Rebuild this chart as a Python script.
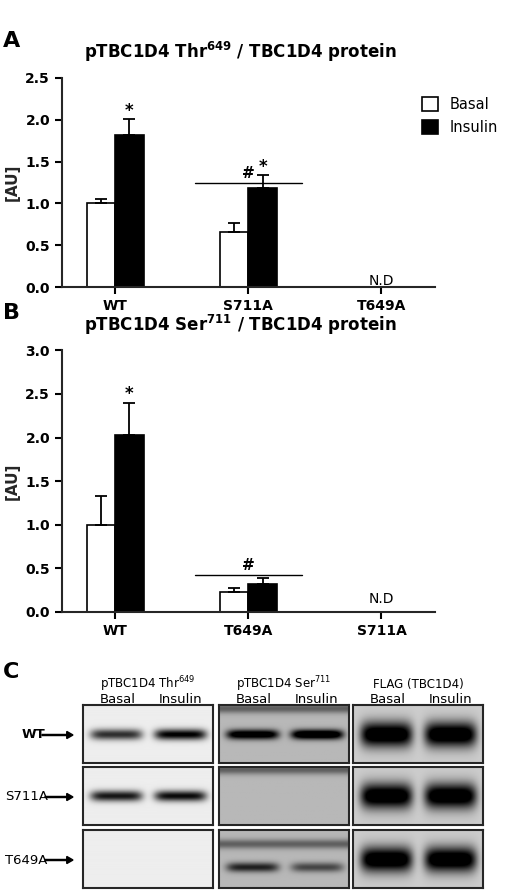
import numpy as np, pandas as pd, seaborn as sns, matplotlib
matplotlib.use("Agg")
import matplotlib.pyplot as plt

sns.set_style("ticks")
plt.rcParams['font.family'] = ['DejaVu Sans']
plt.rcParams['text.color'] = 'black'

groups = ["Basal", "Insulin"]
catsA = ["WT", "S711A", "T649A"]
basalA = [1.00, 0.66, np.nan]; insA = [1.82, 1.18, np.nan]
basalA_err = [0.05, 0.11, 0]; insA_err = [0.19, 0.16, 0]
catsB = ["WT", "T649A", "S711A"]
basalB = [1.00, 0.23, np.nan]; insB = [2.03, 0.32, np.nan]
basalB_err = [0.33, 0.05, 0]; insB_err = [0.37, 0.07, 0]

blot_cols = ["pTBC1D4 Thr$^{649}$", "pTBC1D4 Ser$^{711}$", "FLAG (TBC1D4)"]
blot_rows = ["WT", "S711A", "T649A"]
bands = [[(0.75, 0.95), (0.9, 1.0), (1.0, 1.0)],
         [(0.85, 0.9), (0.0, 0.0), (1.0, 1.0)],
         [(0.0, 0.0), (0.6, 0.45), (1.0, 1.0)]]
bg = [0.93, 0.72, 0.80]

fig = plt.figure(figsize=(5.2, 8.9), dpi=100)

def panel(rect, cats, b, i, be, ie, ylim, ticks, title, letter, sig_star, hash_y, nd_y):
    ax = fig.add_axes(rect)
    df = pd.DataFrame({"cat": cats * 2, "grp": ["Basal"] * 3 + ["Insulin"] * 3, "val": b + i})
    sns.barplot(data=df, x="cat", y="val", hue="grp", order=cats, hue_order=groups,
                palette=["white", "black"], edgecolor="black", linewidth=1.2,
                width=0.43, ax=ax, errorbar=None)
    offs = [-0.1075, 0.1075]
    for k, (vals, errs) in enumerate([(b, be), (i, ie)]):
        for j, (v, e) in enumerate(zip(vals, errs)):
            if not np.isnan(v):
                ax.errorbar(j + offs[k], v, yerr=[[0], [e]], color="black", capsize=4, capthick=1.3, lw=1.3)
    for j, v, e in sig_star:
        ax.text(j + 0.1075, v + e + 0.04, "*", ha="center", fontsize=12, fontweight="bold")
    ax.plot([0.6, 1.4], [hash_y, hash_y], color="black", lw=1)
    ax.text(1.0, hash_y + 0.06, "#", ha="center", fontsize=11, fontweight="bold")
    ax.text(2.0, nd_y, "N.D", ha="center", fontsize=10)
    ax.set_xlim(-0.4, 2.4); ax.set_ylim(*ylim); ax.set_yticks(ticks)
    ax.set_yticklabels([f"{t:.1f}" for t in ticks], fontweight="bold", fontsize=10)
    ax.set_xticks(range(3)); ax.set_xticklabels(cats, fontweight="bold", fontsize=10)
    ax.set_xlabel(""); ax.set_ylabel("[AU]", fontweight="bold", fontsize=11)
    sns.despine(ax=ax)
    for s in ["left", "bottom"]: ax.spines[s].set_linewidth(1.5)
    ax.tick_params(width=1.5, length=5, colors="black")
    ax.set_title(title, fontweight="bold", fontsize=12, loc="left", x=0.06, pad=14)
    fig.text(0.005, rect[1] + rect[3] + 0.035, letter, fontweight="bold", fontsize=16)
    return ax

axA = panel([0.119, 0.6775, 0.717, 0.235], catsA, basalA, insA, basalA_err, insA_err,
            (0, 2.5), np.arange(0, 2.51, 0.5), "pTBC1D4 Thr$^{\\mathbf{649}}$ / TBC1D4 protein", "A",
            [(0, 1.82, 0.19), (1, 1.18, 0.16)], 1.24, 0.03)
axA.legend(handles=axA.get_legend_handles_labels()[0], labels=groups, loc="upper left",
           bbox_to_anchor=(0.93, 0.97), frameon=False, fontsize=10.5, handlelength=1.1, handleheight=1.1)
axB = panel([0.119, 0.3124, 0.717, 0.294], catsB, basalB, insB, basalB_err, insB_err,
            (0, 3.0), np.arange(0, 3.01, 0.5), "pTBC1D4 Ser$^{\\mathbf{711}}$ / TBC1D4 protein", "B",
            [(0, 2.03, 0.37)], 0.42, 0.1)
axB.get_legend().remove()

fig.text(0.005, 0.238, "C", fontweight="bold", fontsize=16)
xs = [83, 219, 353]; ys = [705, 767, 830]; w, h = 130, 58
yy, xx = np.mgrid[0:60, 0:130]
for c in range(3):
    fig.text((xs[c] + w / 2) / 520, 1 - 688 / 890, blot_cols[c], ha="center", fontsize=8.5)
    fig.text((xs[c] + 35) / 520, 1 - 703 / 890, "Basal", ha="center", fontsize=9.5)
    fig.text((xs[c] + 98) / 520, 1 - 703 / 890, "Insulin", ha="center", fontsize=9.5)
    for r in range(3):
        ax = fig.add_axes([xs[c] / 520, 1 - (ys[r] + h) / 890, w / 520, h / 890])
        img = np.full(yy.shape, bg[c])
        thick = 13 if c == 2 else (5 if c == 1 else 5.5)
        cy = 30 if (c != 1 or r != 2) else 38
        for k, cx in enumerate([33, 97]):
            s = bands[r][c][k]
            img -= s * 1.0 * np.exp(-((xx - cx) / 26) ** 6 - ((yy - cy) / thick) ** 2)
        if c == 1:
            img -= 0.35 * np.exp(-((yy - (14 if r == 2 else 3)) / 5) ** 2)
        ax.imshow(np.clip(img, 0, 1), cmap="gray", vmin=0, vmax=1, aspect="auto")
        ax.set_xticks([]); ax.set_yticks([])
        for s in ax.spines.values(): s.set_linewidth(1.5)
for r, name in enumerate(blot_rows):
    yc = 1 - (ys[r] + 30) / 890
    fig.text(5 / 520 if r else 22 / 520, yc, name, fontsize=9.5, va="center", fontweight="bold" if r == 0 else "normal")
    x0 = 45 / 520 if r else 42 / 520
    fig.patches.append(matplotlib.patches.FancyArrow(x0, yc, 73 / 520 - x0, 0, width=0.0012, head_width=0.008,
                                                     head_length=0.012, length_includes_head=True,
                                                     color="black", transform=fig.transFigure))
fig.savefig("out.png", dpi=100)
